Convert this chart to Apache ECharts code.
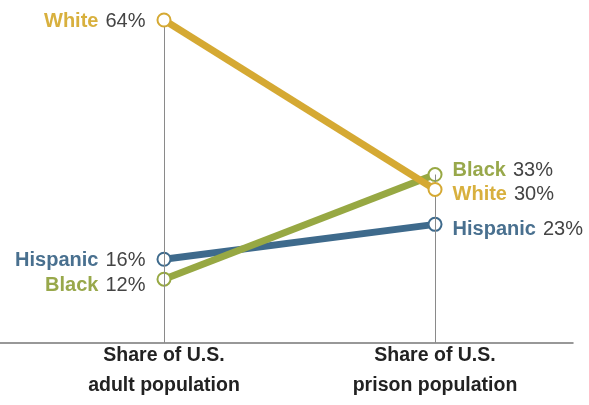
<!DOCTYPE html>
<html>
<head>
<meta charset="utf-8">
<script src="https://cdn.jsdelivr.net/npm/echarts@6/dist/echarts.min.js"></script>
<style>html,body{margin:0;padding:0;background:#fff}#c{width:589px;height:405px}</style>
</head>
<body>
<div id="c"></div>
<script>
var categories = ['Share of U.S.\nadult population', 'Share of U.S.\nprison population'];
var groups = ['White', 'Black', 'Hispanic'];
var white = [64, 30];
var black = [12, 33];
var hispanic = [16, 23];
var colors = {White: '#D5A933', Black: '#97A843', Hispanic: '#3E6A8C'};
var labelColors = {White: '#D8B03E', Black: '#98A84B', Hispanic: '#49708F'};
var values = {White: white, Black: black, Hispanic: hispanic};
// vertical label nudges (px)
var leftOffsets = {White: 1, Black: 6, Hispanic: 1};
var rightOffsets = {White: 5, Black: -4, Hispanic: 5};

var chart = echarts.init(document.getElementById('c'), null, {renderer: 'canvas'});

function mkSeries(g, z) {
  var v = values[g];
  return {
    type: 'line',
    name: g,
    z: z,
    data: [
      {value: [0, v[0]], label: {show: true, position: 'left', distance: 11, offset: [0, leftOffsets[g]]}},
      {value: [1, v[1]], label: {show: true, position: 'right', distance: 10, offset: [0, rightOffsets[g]]}}
    ],
    symbol: 'circle',
    symbolSize: 13,
    lineStyle: {color: colors[g], width: 7},
    itemStyle: {color: '#fff', borderColor: colors[g], borderWidth: 2},
    label: {
      formatter: function (p) { return '{n|' + g + '}{v|' + p.value[1] + '%}'; },
      rich: {
        n: {fontFamily: 'Liberation Sans', fontWeight: 'bold', fontSize: 20, color: labelColors[g], padding: [0, 7, 0, 0]},
        v: {fontFamily: 'Liberation Sans', fontSize: 20, color: '#444'}
      }
    },
    emphasis: {disabled: true},
    animation: false
  };
}

var series = [mkSeries('Hispanic', 3), mkSeries('Black', 4), mkSeries('White', 5)];
var axisLabelStyle = {
  show: true, position: 'start', distance: -2,
  formatter: '{b}',
  fontFamily: 'Liberation Sans', fontWeight: 'bold', fontSize: 19.5, color: '#222',
  lineHeight: 30, align: 'center'
};
// vertical guide lines from baseline to top value of each column, labelled with the category
series.push({
  type: 'line',
  data: [],
  markLine: {
    silent: true,
    symbol: 'none',
    animation: false,
    lineStyle: {color: '#8a8a8a', width: 1, type: 'solid'},
    label: axisLabelStyle,
    data: [
      [{coord: [0, -0.8], name: categories[0]}, {coord: [0, Math.max(white[0], black[0], hispanic[0])]}],
      [{coord: [1, -0.8], name: categories[1]}, {coord: [1, Math.max(white[1], black[1], hispanic[1])]}]
    ]
  },
  z: 1
});

chart.setOption({
  backgroundColor: '#fff',
  animation: false,
  grid: {left: 0, right: 16, top: 20, bottom: 62, containLabel: false},
  xAxis: {
    type: 'value',
    min: -0.605,
    max: 1.509,
    splitLine: {show: false},
    axisTick: {show: false},
    axisLabel: {show: false},
    axisLine: {show: true, onZero: false, lineStyle: {color: '#777', width: 1.5}}
  },
  yAxis: {
    type: 'value', min: -0.8, max: 64,
    show: false
  },
  series: series
});
</script>
</body>
</html>
